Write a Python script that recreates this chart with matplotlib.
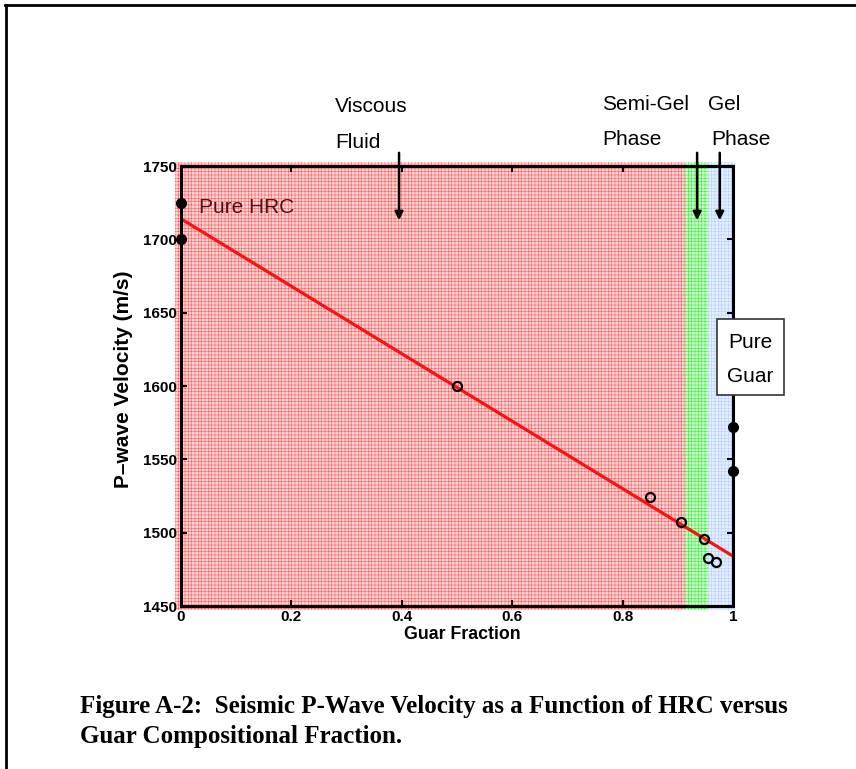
import matplotlib
matplotlib.use("Agg")
import matplotlib.pyplot as plt
from matplotlib.patches import Rectangle
from matplotlib.lines import Line2D

plt.rcParams['font.family'] = ['Liberation Sans', 'DejaVu Sans']

# ---- data ----
hrc_x = [0, 0]
hrc_y = [1725, 1700]
guar_x = [1, 1]
guar_y = [1572, 1542]
mix_x = [0.5, 0.85, 0.905, 0.948, 0.955, 0.97]
mix_y = [1600, 1524, 1507, 1496, 1483, 1480]
fit_x = [0, 1]
fit_y = [1714, 1484]
phase_edges = [0.0, 0.913, 0.955, 1.0]   # viscous | semi-gel | gel
phase_colors = ['#ffd4d4', '#c8ffc8', '#e6efff']
phase_hatch_colors = ['#ff5a5a', '#3ae83a', '#b4ceff']
arrow_x = [0.395, 0.935, 0.976]
xticks = [0, 0.2, 0.4, 0.6, 0.8, 1]
xticklabels = ['0', '0.2', '0.4', '0.6', '0.8', '1']
yticks = [1450, 1500, 1550, 1600, 1650, 1700, 1750]
caption1 = 'Figure A-2:  Seismic P-Wave Velocity as a Function of HRC versus'
caption2 = 'Guar Compositional Fraction.'

W, H = 856, 769
fig = plt.figure(figsize=(W / 100, H / 100), dpi=100)

def fx(px):
    return px / W

def fy(py):
    return 1 - py / H

ax = fig.add_axes([fx(181), fy(606), fx(733) - fx(181), fy(166) - fy(606)])
ax.set_xlim(0, 1)
ax.set_ylim(1450, 1750)
ax.set_facecolor('none')

# phase backgrounds (slightly bleeding past the axes, as in the scanned figure)
plt.rcParams['hatch.linewidth'] = 0.4
ylo, yhi = 1447.3, 1752.8
for i in range(3):
    x0 = phase_edges[i] - (0.011 if i == 0 else 0)
    x1 = phase_edges[i + 1] + (0.004 if i == 2 else 0)
    r = Rectangle((x0, ylo), x1 - x0, yhi - ylo, facecolor=phase_colors[i],
                  edgecolor=phase_hatch_colors[i], hatch='+++++', linewidth=0,
                  clip_on=False, zorder=0)
    ax.add_patch(r)

# fit line
ax.plot(fit_x, fit_y, color='#ff1010', lw=2.3, zorder=3, solid_capstyle='butt')

# points
ax.plot(mix_x, mix_y, 'o', ms=6.5, mfc='none', mec='black', mew=1.6, zorder=4)
ax.plot(hrc_x, hrc_y, 'o', ms=7, color='black', clip_on=False, zorder=5)
ax.plot(guar_x, guar_y, 'o', ms=7, color='black', clip_on=False, zorder=5)

# spines / ticks
for s in ax.spines.values():
    s.set_linewidth(2.2)
    s.set_color('black')
    s.set_zorder(6)
ax.set_xticks(xticks)
ax.set_xticklabels(xticklabels)
ax.set_yticks(yticks)
ax.tick_params(direction='in', length=4, width=1.5, top=True, right=True,
               labelsize=11, pad=3)
for lab in ax.get_xticklabels() + ax.get_yticklabels():
    lab.set_fontweight('bold')

ax.set_xlabel('Guar Fraction', fontsize=12.8, fontweight='bold')
ax.set_ylabel('P\u2013wave Velocity (m/s)', fontsize=15, fontweight='bold')
ax.xaxis.set_label_coords(0.51, -0.045)
ax.yaxis.set_label_coords(-0.087, 0.515)

# annotations
ax.text(0.033, 1722, 'Pure HRC', fontsize=15, color='#4a1212', va='center', ha='left', zorder=7)

for xa in arrow_x:
    ax.annotate('', xy=(xa, 1713), xytext=(xa, 1759), xycoords='data',
                arrowprops=dict(arrowstyle='-|>', color='black', lw=1.8,
                                mutation_scale=12, shrinkA=0, shrinkB=0),
                annotation_clip=False, zorder=8)

fig.text(fx(335), fy(112), 'Viscous', fontsize=15, va='baseline', ha='left')
fig.text(fx(335), fy(148), 'Fluid', fontsize=15, va='baseline', ha='left')
fig.text(fx(602), fy(110), 'Semi-Gel', fontsize=15, va='baseline', ha='left')
fig.text(fx(602), fy(145), 'Phase', fontsize=15, va='baseline', ha='left')
fig.text(fx(708), fy(110), 'Gel', fontsize=15, va='baseline', ha='left')
fig.text(fx(711), fy(145), 'Phase', fontsize=15, va='baseline', ha='left')

# Pure Guar box
box = Rectangle((fx(717), fy(395)), fx(784) - fx(717), fy(319) - fy(395),
                transform=fig.transFigure, facecolor='white', edgecolor='#333333',
                lw=1.2, zorder=9)
fig.patches.append(box)
fig.text(fx(750), fy(342), 'Pure', fontsize=15, ha='center', va='center', zorder=10)
fig.text(fx(750), fy(376), 'Guar', fontsize=15, ha='center', va='center', zorder=10)

# caption
cap_kw = dict(fontsize=18, fontweight='bold', family='Liberation Serif',
              va='baseline', ha='left')
fig.text(fx(80), fy(713), caption1, **cap_kw)
fig.text(fx(80), fy(743), caption2, **cap_kw)

# page frame
fig.add_artist(Line2D([fx(5), 1.0], [fy(5), fy(5)], color='black', lw=2, transform=fig.transFigure))
fig.add_artist(Line2D([fx(6), fx(6)], [fy(5), 0.0], color='black', lw=2, transform=fig.transFigure))

fig.savefig('out.png', dpi=100)
